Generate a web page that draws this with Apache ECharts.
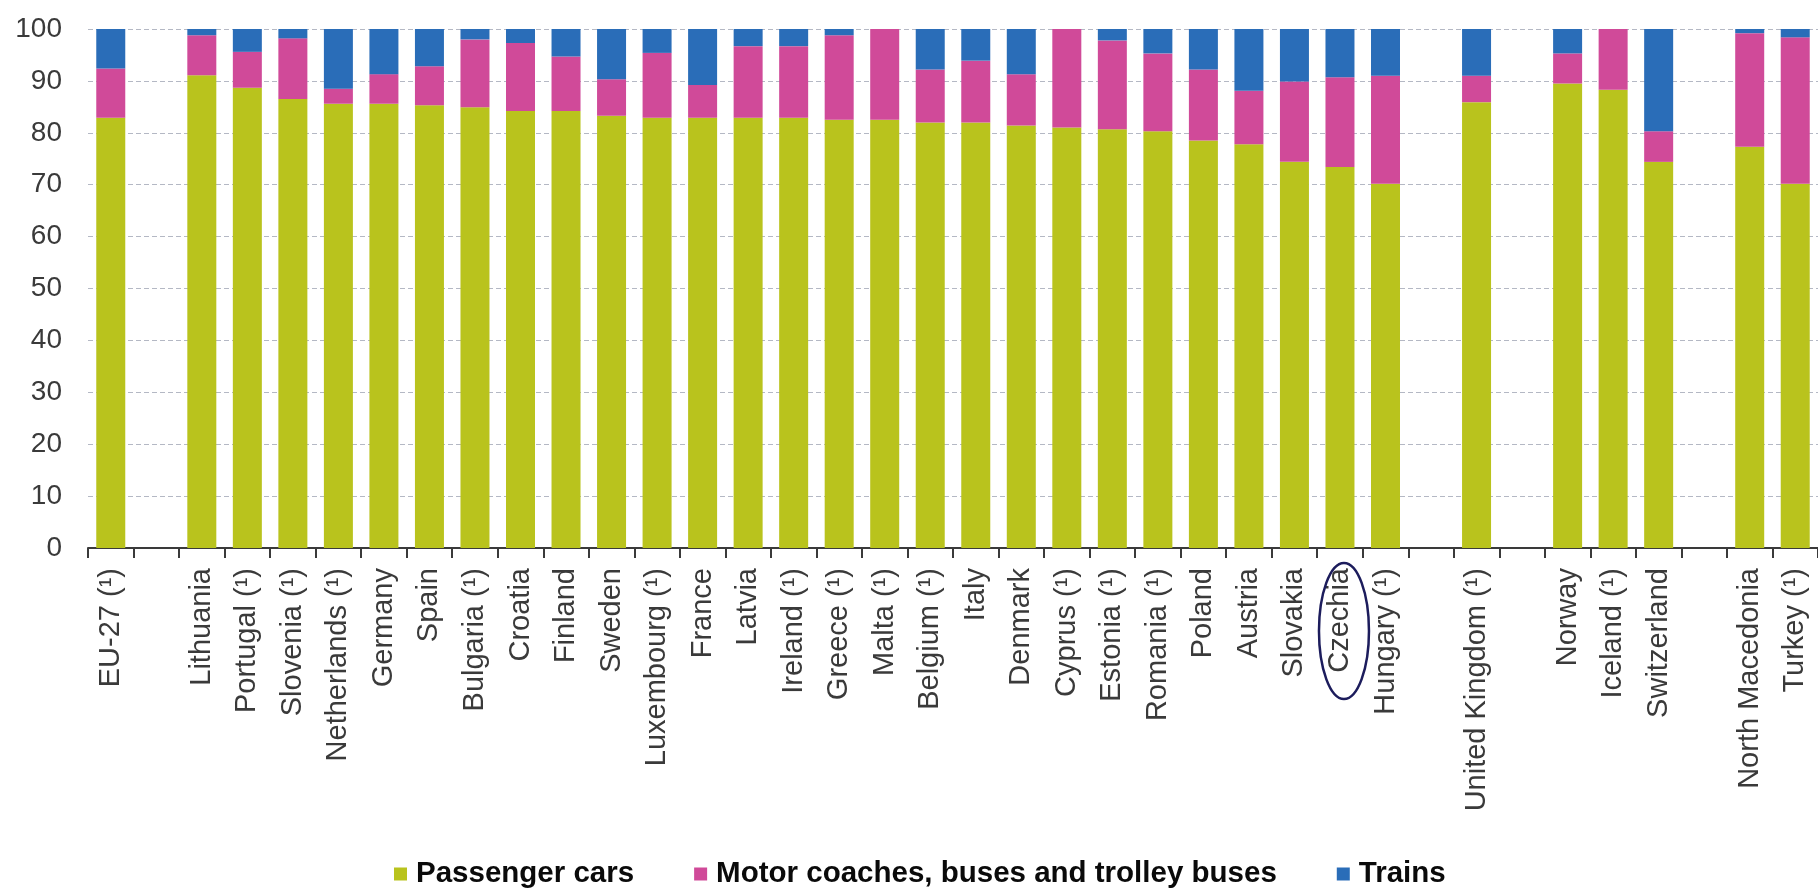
<!DOCTYPE html>
<html>
<head>
<meta charset="utf-8">
<script src="https://cdn.jsdelivr.net/npm/echarts@6/dist/echarts.min.js"></script>
<style>
html,body{margin:0;padding:0;background:#fff;}
#chart{width:1818px;height:888px;}
</style>
</head>
<body>
<div id="chart"></div>
<script>
const categories = ['EU-27 (¹)', '', 'Lithuania', 'Portugal (¹)', 'Slovenia (¹)', 'Netherlands (¹)', 'Germany', 'Spain', 'Bulgaria (¹)', 'Croatia', 'Finland', 'Sweden', 'Luxembourg (¹)', 'France', 'Latvia', 'Ireland (¹)', 'Greece (¹)', 'Malta (¹)', 'Belgium (¹)', 'Italy', 'Denmark', 'Cyprus (¹)', 'Estonia (¹)', 'Romania (¹)', 'Poland', 'Austria', 'Slovakia', 'Czechia', 'Hungary (¹)', '', 'United Kingdom (¹)', '', 'Norway', 'Iceland (¹)', 'Switzerland', '', 'North Macedonia', 'Turkey (¹)'];

const passengerCars = [82.9, null, 91.1, 88.7, 86.5, 85.6, 85.6, 85.3, 84.9, 84.2, 84.2, 83.3, 82.9, 82.9, 82.9, 82.9, 82.5, 82.5, 82.0, 82.0, 81.4, 81.0, 80.7, 80.3, 78.5, 77.8, 74.4, 73.4, 70.2, null, 85.9, null, 89.5, 88.3, 74.4, null, 77.3, 70.2];

const busesCoaches = [9.5, null, 7.7, 6.9, 11.7, 2.9, 5.7, 7.5, 13.1, 13.1, 10.5, 7.0, 12.5, 6.3, 13.8, 13.8, 16.3, 17.5, 10.2, 11.9, 9.9, 19.0, 17.1, 15.0, 13.7, 10.3, 15.5, 17.3, 20.8, null, 5.1, null, 5.8, 11.7, 5.9, null, 21.9, 28.2];

const trains = [7.6, null, 1.2, 4.4, 1.8, 11.5, 8.7, 7.2, 2.0, 2.7, 5.3, 9.7, 4.6, 10.8, 3.3, 3.3, 1.2, 0, 7.8, 6.1, 8.7, 0, 2.2, 4.7, 7.8, 11.9, 10.1, 9.3, 9.0, null, 9.0, null, 4.7, 0, 19.7, null, 0.8, 1.6];

const yTicks = [0, 10, 20, 30, 40, 50, 60, 70, 80, 90, 100];

const seriesNames = ['Passenger cars', 'Motor coaches, buses and trolley buses', 'Trains'];
const colors = ['#b9c31d', '#d04a99', '#2a6db8'];

const chart = echarts.init(document.getElementById('chart'), null, {renderer: 'canvas'});
const labelFont = 'Liberation Sans, Arial, sans-serif';

const option = {
  animation: false,
  backgroundColor: '#ffffff',
  color: colors,
  grid: {left: 88, right: -12, top: 29, bottom: 340, containLabel: false},
  legend: {
    data: seriesNames,
    left: 394,
    top: 858,
    padding: 0,
    icon: 'rect',
    itemWidth: 13,
    itemHeight: 13,
    itemGap: 60,
    textStyle: {
      fontFamily: labelFont,
      fontWeight: 'bold',
      fontSize: 29.5,
      color: '#0a0a0a',
      lineHeight: 32,
      padding: [0, 0, 0, 4]
    }
  },
  xAxis: {
    type: 'category',
    data: categories,
    boundaryGap: true,
    axisLine: {show: true, lineStyle: {color: '#3a3a3a', width: 2}},
    axisTick: {show: true, length: 10, lineStyle: {color: '#3a3a3a', width: 2}},
    axisLabel: {
      interval: 0,
      rotate: 90,
      margin: 20,
      fontFamily: labelFont,
      fontSize: 29,
      color: '#3a3a3a'
    },
    splitLine: {show: false}
  },
  yAxis: {
    type: 'value',
    min: yTicks[0],
    max: yTicks[yTicks.length - 1],
    interval: yTicks[1] - yTicks[0],
    axisLine: {show: false},
    axisTick: {show: false},
    axisLabel: {
      margin: 26,
      fontFamily: labelFont,
      fontSize: 28,
      color: '#3a3a3a'
    },
    splitLine: {show: true, lineStyle: {color: '#b4b8c4', type: [5, 3], width: 1}}
  },
  series: [
    {name: seriesNames[0], type: 'bar', stack: 'total', barWidth: 29, data: passengerCars, itemStyle: {color: colors[0]}},
    {name: seriesNames[1], type: 'bar', stack: 'total', barWidth: 29, data: busesCoaches, itemStyle: {color: colors[1]}},
    {name: seriesNames[2], type: 'bar', stack: 'total', barWidth: 29, data: trains, itemStyle: {color: colors[2]}}
  ]
};
chart.setOption(option);

// Highlight ellipse around the Czechia label
const czIdx = categories.indexOf('Czechia');
const px = chart.convertToPixel({xAxisIndex: 0}, czIdx);
chart.setOption({
  graphic: [{
    type: 'ellipse',
    shape: {cx: px + 4, cy: 631, rx: 25, ry: 68},
    style: {fill: null, stroke: '#1c1c5c', lineWidth: 2.5},
    z: 100
  }]
});
</script>
</body>
</html>
